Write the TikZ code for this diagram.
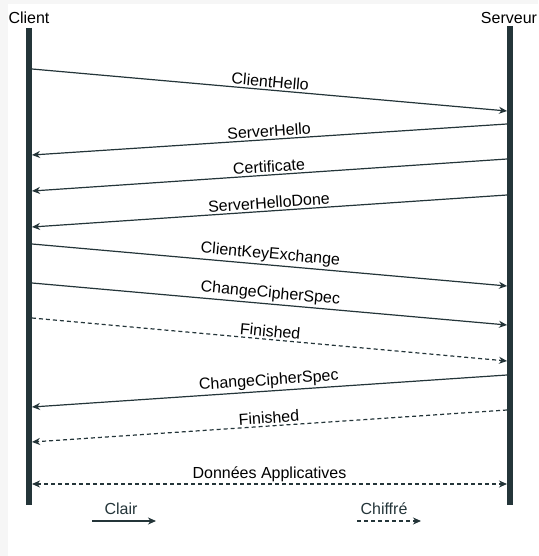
\documentclass[tikz,border=0pt]{standalone}
\usepackage{fontspec}
\setmainfont{Liberation Sans}
\usetikzlibrary{arrows.meta}
\definecolor{ink}{HTML}{243539}
\definecolor{pagebg}{HTML}{F6F6F6}
\tikzset{
  lifeline/.style={line width=6pt, draw=ink},
  msg/.style={line width=1.2pt, draw=ink, -{Stealth[length=8pt,width=7pt,inset=2.5pt]}},
  encmsg/.style={msg, dash pattern=on 4pt off 3pt},
  lbl/.style={font=\fontsize{16}{19}\selectfont, text=black, inner sep=2pt},
  leglbl/.style={font=\fontsize{16}{19}\selectfont, text=ink, inner sep=0pt},
}
\begin{document}
\begin{tikzpicture}[x=1pt,y=-1pt]
\useasboundingbox (0,0) rectangle (538,556);
\fill[pagebg] (0,0) rectangle (538,556);
\fill[white] (8,4) rectangle (538,556);

% participants
\node[lbl, inner sep=0pt] (client) at (29,18) {Client};
\node[lbl, inner sep=0pt] (server) at (509,18) {Serveur};
\coordinate (ctop) at (29,28);
\coordinate (cbot) at (29,505);
\coordinate (stop) at (510,26);
\coordinate (sbot) at (510,505);
\draw[lifeline] (ctop) -- (cbot);
\draw[lifeline] (stop) -- (sbot);

% message end points
\coordinate (c1) at (32,69);   \coordinate (s1) at (507,111);
\coordinate (s2) at (507,124); \coordinate (c2) at (32,155);
\coordinate (s3) at (507,159); \coordinate (c3) at (32,191);
\coordinate (s4) at (507,195); \coordinate (c4) at (32,227);
\coordinate (c5) at (32,244);  \coordinate (s5) at (507,286);
\coordinate (c6) at (32,283);  \coordinate (s6) at (507,325);
\coordinate (c7) at (32,318);  \coordinate (s7) at (507,361);
\coordinate (s8) at (507,375); \coordinate (c8) at (32,407);
\coordinate (s9) at (507,410); \coordinate (c9) at (32,442);
\coordinate (c10) at (32,484); \coordinate (s10) at (507,484);

\draw[msg] (c1) -- node[lbl, midway, sloped, above] {ClientHello} (s1);
\draw[msg] (s2) -- node[lbl, midway, sloped, above] {ServerHello} (c2);
\draw[msg] (s3) -- node[lbl, midway, sloped, above] {Certificate} (c3);
\draw[msg] (s4) -- node[lbl, midway, sloped, above] {ServerHelloDone} (c4);
\draw[msg] (c5) -- node[lbl, midway, sloped, above] {ClientKeyExchange} (s5);
\draw[msg] (c6) -- node[lbl, midway, sloped, above] {ChangeCipherSpec} (s6);
\draw[encmsg] (c7) -- node[lbl, midway, sloped, above] {Finished} (s7);
\draw[msg] (s8) -- node[lbl, midway, sloped, above] {ChangeCipherSpec} (c8);
\draw[encmsg] (s9) -- node[lbl, midway, sloped, above] {Finished} (c9);
\draw[encmsg, {Stealth[length=8pt,width=7pt,inset=2.5pt]}-{Stealth[length=8pt,width=7pt,inset=2.5pt]}] (c10) -- node[lbl, midway, above] {Données Applicatives} (s10);

% legend
\node[leglbl] (clair) at (121,509) {Clair};
\coordinate (l1a) at (92,521); \coordinate (l1b) at (156,521);
\draw[msg] (l1a) -- (l1b);
\node[leglbl] (chiffre) at (384,509) {Chiffré};
\coordinate (l2a) at (357,521); \coordinate (l2b) at (421,521);
\draw[encmsg] (l2a) -- (l2b);
\end{tikzpicture}
\end{document}
